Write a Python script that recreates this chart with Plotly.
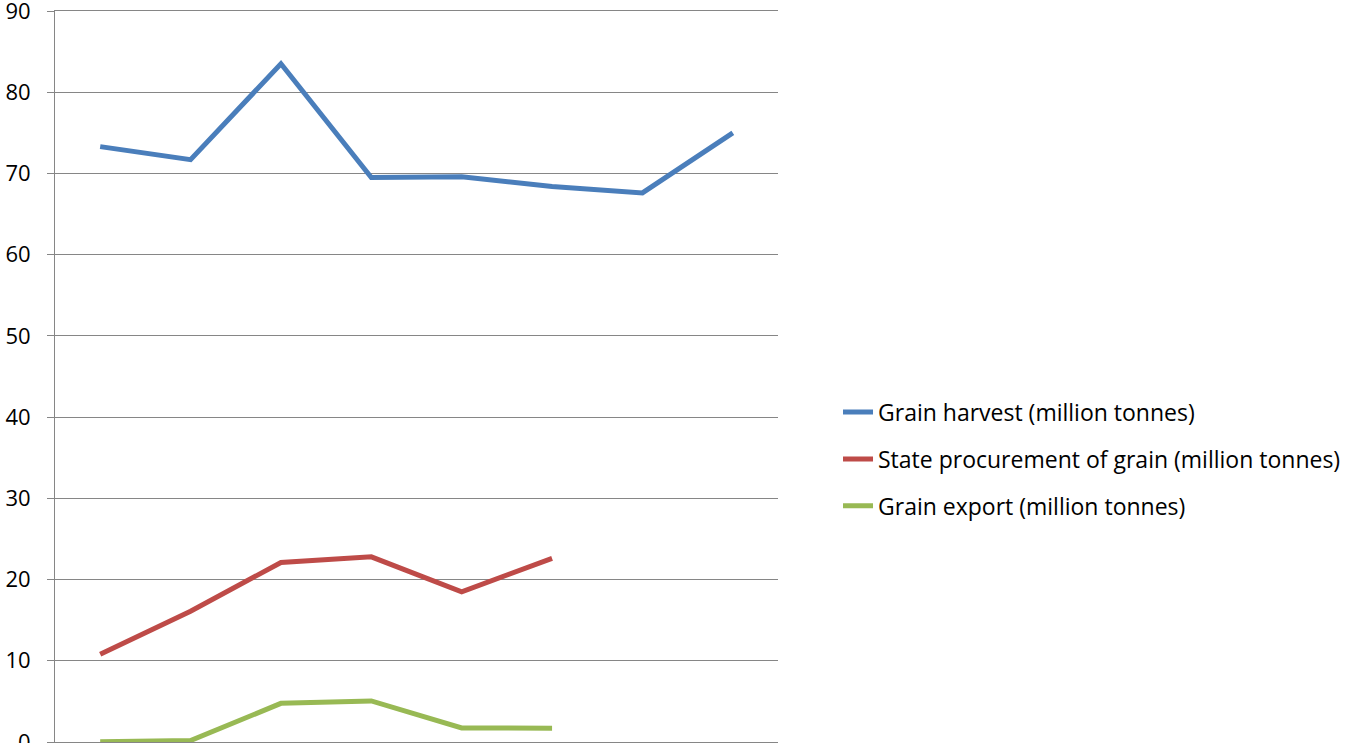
import plotly.graph_objects as go

years = ["1928", "1929", "1930", "1931", "1932", "1933", "1934", "1935"]
harvest = [73.3, 71.7, 83.5, 69.5, 69.6, 68.4, 67.6, 75.0]
procurement = [10.8, 16.1, 22.1, 22.8, 18.5, 22.6]
export = [0.03, 0.18, 4.76, 5.06, 1.73, 1.69]

names = ["Grain harvest (million tonnes)",
         "State procurement of grain (million tonnes)",
         "Grain export (million tonnes)"]
colors = ["#4A7EBB", "#BE4B48", "#98B954"]
series = [harvest, procurement, export]

fig = go.Figure()
for i, (nm, col, vals) in enumerate(zip(names, colors, series)):
    fig.add_trace(go.Scatter(
        x=years[:len(vals)], y=vals, name=nm, mode="lines",
        line=dict(color=col, width=5), legendgroup=str(i)))

font = "'Open Sans', sans-serif"
fig.update_layout(
    width=1354, height=743,
    margin=dict(l=55, r=576, t=11, b=1),
    paper_bgcolor="white", plot_bgcolor="white",
    showlegend=True,
    legend=dict(x=1.083, xanchor="left", y=0.387, yanchor="middle",
                font=dict(family=font, size=23, color="#000000"),
                tracegroupgap=14, bgcolor="rgba(0,0,0,0)"),
    xaxis=dict(type="category", categoryorder="array", categoryarray=years,
               range=[-0.5, 7.5], showgrid=False, showline=True, mirror=True,
               linecolor="#868686", linewidth=1, ticks="", showticklabels=False,
               zeroline=False, automargin=False),
    yaxis=dict(range=[0, 90], tickvals=[0, 10, 20, 30, 40, 50, 60, 70, 80, 90],
               showgrid=True, gridcolor="#868686",
               gridwidth=1, showline=True, linecolor="#868686", linewidth=1,
               ticks="outside", ticklen=7, tickcolor="#868686", zeroline=False,
               ticklabelstandoff=12, automargin=False, ticklabeloverflow="allow",
               tickfont=dict(family=font, size=22, color="#000000")),
)

fig.write_html("out.html")
